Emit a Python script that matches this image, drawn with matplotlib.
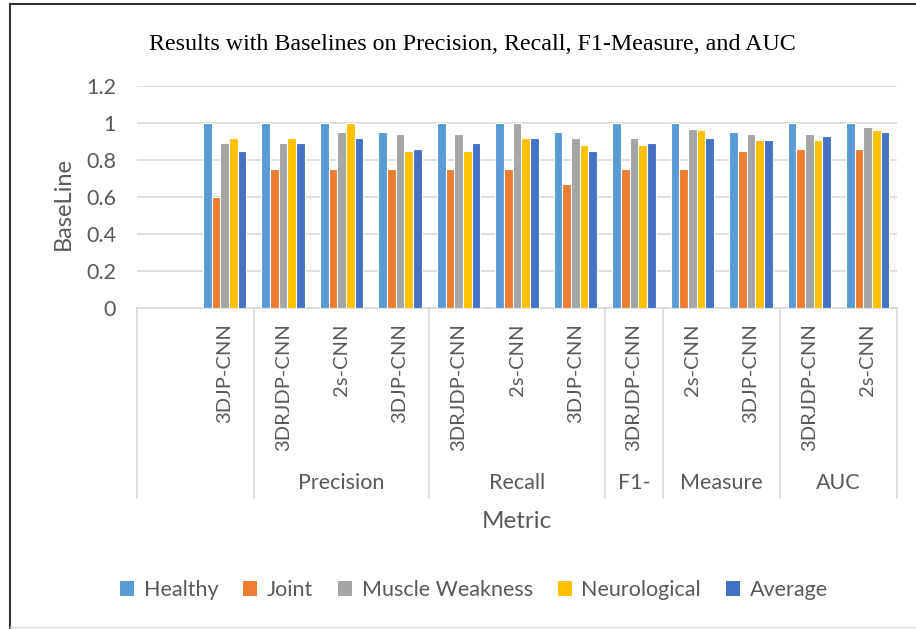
import matplotlib.pyplot as plt
import numpy as np
from matplotlib.patches import Patch

# data
models = ['', '3DJP-CNN', '3DRJDP-CNN', '2s-CNN', '3DJP-CNN', '3DRJDP-CNN', '2s-CNN',
          '3DJP-CNN', '3DRJDP-CNN', '2s-CNN', '3DJP-CNN', '3DRJDP-CNN', '2s-CNN']
groups = ['Precision', 'Recall', 'F1-', 'Measure', 'AUC']
group_centers = [3, 6, 8, 9.5, 11.5]
group_bounds = [-0.5, 1.5, 4.5, 7.5, 8.5, 10.5, 12.5]

series = ['Healthy', 'Joint', 'Muscle Weakness', 'Neurological', 'Average']
healthy = [1.0, 1.0, 1.0, 0.95, 1.0, 1.0, 0.95, 1.0, 1.0, 0.95, 1.0, 1.0]
joint = [0.60, 0.75, 0.75, 0.75, 0.75, 0.75, 0.67, 0.75, 0.75, 0.85, 0.86, 0.86]
muscle = [0.89, 0.89, 0.95, 0.94, 0.94, 1.0, 0.92, 0.92, 0.97, 0.94, 0.94, 0.98]
neuro = [0.92, 0.92, 1.0, 0.85, 0.85, 0.92, 0.88, 0.88, 0.96, 0.91, 0.91, 0.96]
average = [0.85, 0.89, 0.92, 0.86, 0.89, 0.92, 0.85, 0.89, 0.92, 0.91, 0.93, 0.95]

colors = ['#5B9BD5', '#ED7D31', '#A5A5A5', '#FFC000', '#4472C4']
grey_txt = '#595959'
grid_c = '#D9D9D9'

plt.rcParams['font.family'] = ['Lato', 'DejaVu Sans']

fig = plt.figure(figsize=(9.16, 6.29), dpi=100)
ax = fig.add_axes([137 / 916, 1 - 308.3 / 629, 760 / 916, 222.3 / 629])

x = np.arange(1, 13)
w = 0.742 / 5
for i, vals in enumerate([healthy, joint, muscle, neuro, average]):
    ax.bar(x + (i - 2) * w, vals, w, color=colors[i], edgecolor='white', linewidth=0.8,
           label=series[i], zorder=3)

ax.set_xlim(-0.5, 12.5)
ax.set_ylim(0, 1.2)
ax.set_yticks(np.arange(0, 1.21, 0.2))
ax.set_yticklabels(['0', '0.2', '0.4', '0.6', '0.8', '1', '1.2'])
ax.grid(axis='y', color=grid_c, linewidth=1.2, zorder=0)
for s in ['top', 'right', 'left']:
    ax.spines[s].set_visible(False)
ax.spines['bottom'].set_color(grid_c)
ax.spines['bottom'].set_linewidth(1.2)
ax.tick_params(axis='y', length=0, pad=15, labelsize=15.5, labelcolor=grey_txt)

ax.set_xticks(np.arange(13))
ax.set_xticklabels(models, rotation=90, fontsize=14.5, color=grey_txt)
ax.tick_params(axis='x', length=0, pad=11)

tr = ax.get_xaxis_transform()
for b in group_bounds:
    ax.plot([b, b], [0, -0.853], transform=tr, color=grid_c, linewidth=1.2, clip_on=False)
for g, c in zip(groups, group_centers):
    ax.text(c, -0.7845, g, transform=tr, ha='center', va='center', fontsize=15.5, color=grey_txt)

fig.text(517 / 916, 1 - 521 / 629, 'Metric', ha='center', va='center', fontsize=17.5, color=grey_txt)
fig.text(63 / 916, 1 - 203 / 629, 'BaseLine', ha='center', va='center', rotation=90,
         fontsize=17, color=grey_txt)
fig.text(472 / 916, 1 - 44 / 629, 'Results with Baselines on Precision, Recall, F1-Measure, and AUC',
         ha='center', va='center', fontsize=17.3, family='Liberation Serif', color='black')

handles = [Patch(facecolor=c, edgecolor='none') for c in colors]
leg = fig.legend(handles, series, loc='center', bbox_to_anchor=(474 / 916, 1 - 590 / 629), ncol=5,
                 frameon=False, fontsize=15.5, handlelength=0.65, handleheight=0.65,
                 handletextpad=0.45, columnspacing=1.15)
for t in leg.get_texts():
    t.set_color(grey_txt)

# screenshot frame edges
fig.add_artist(plt.Line2D([10 / 916, 10 / 916], [0, 1 - 4 / 629], color='#333333', linewidth=1.5))
fig.add_artist(plt.Line2D([10 / 916, 1], [1 - 4 / 629, 1 - 4 / 629], color='#333333', linewidth=1.5))
fig.add_artist(plt.Line2D([10 / 916, 1], [1 - 627 / 629, 1 - 627 / 629], color=grid_c, linewidth=1))

fig.savefig('out.png', dpi=100)
